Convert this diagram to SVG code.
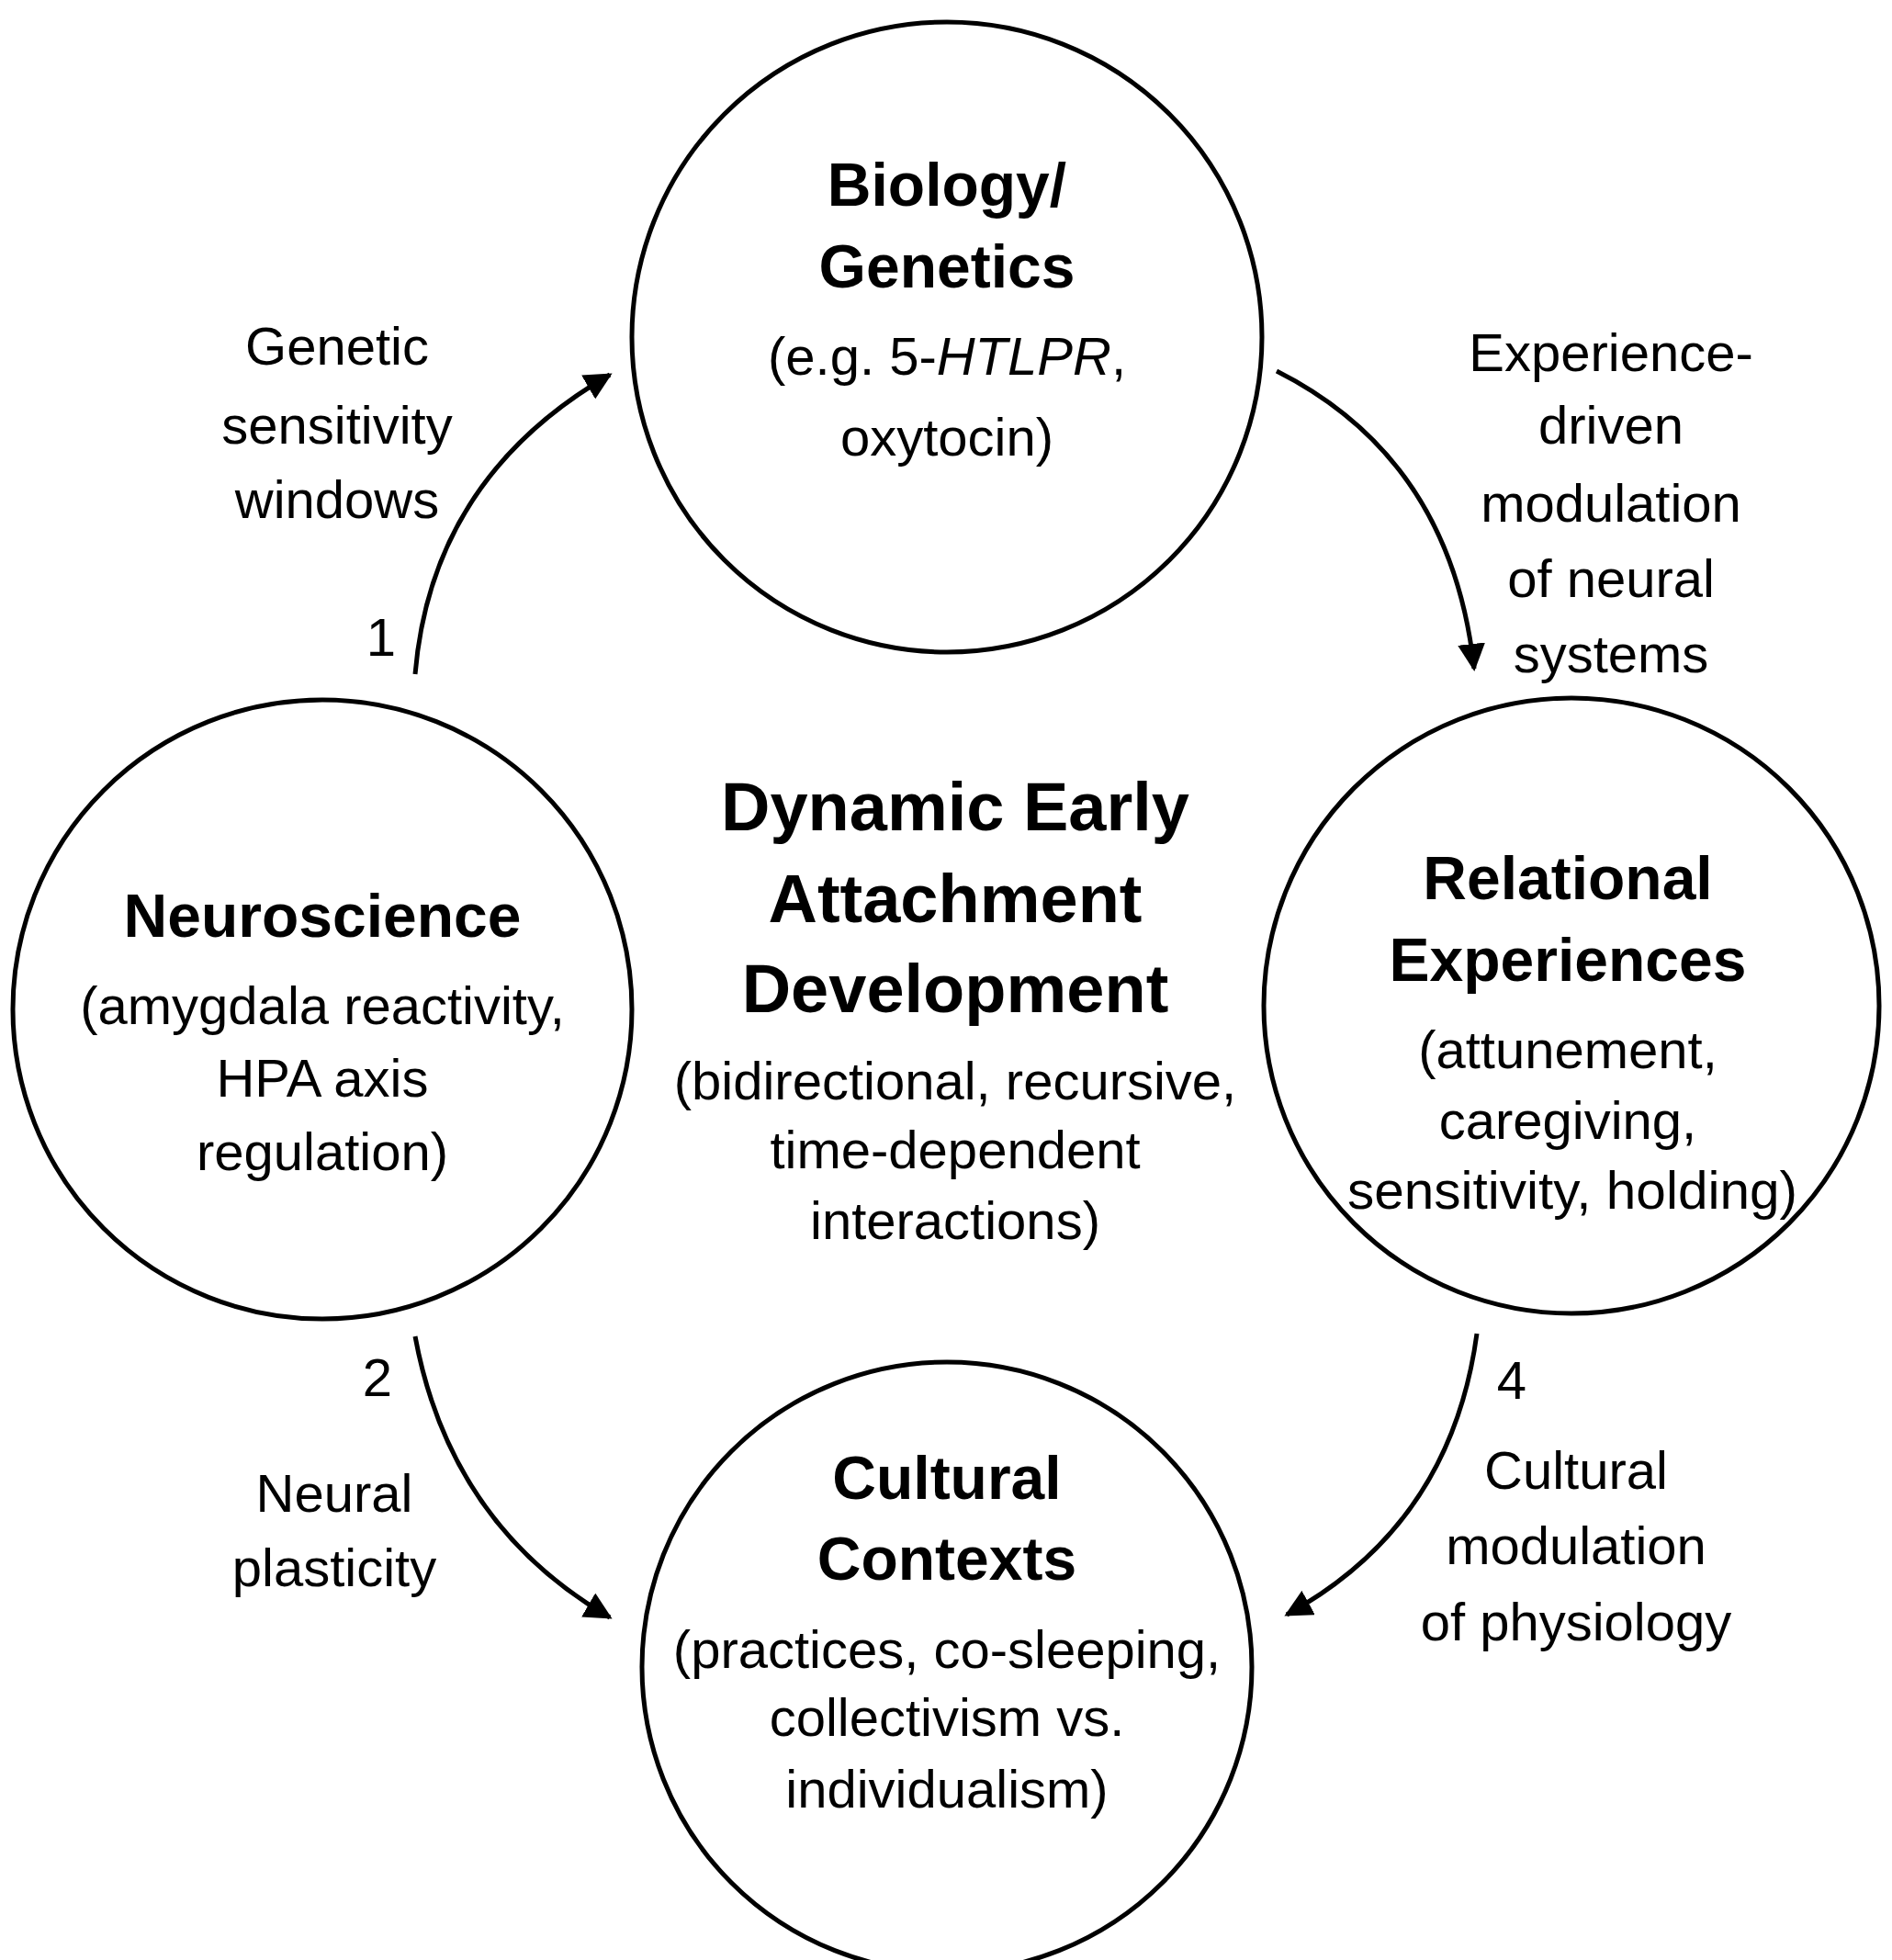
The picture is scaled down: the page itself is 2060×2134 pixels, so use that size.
<svg xmlns="http://www.w3.org/2000/svg" width="2060" height="2134" viewBox="0 0 2060 2134">
<style>
.c{fill:#fff;stroke:#000;stroke-width:5}
text{font-family:"Liberation Sans",Arial,sans-serif;text-anchor:middle;fill:#000}
.h{font-weight:bold;font-size:66px}
.t{font-size:58px}
.ti{font-weight:bold;font-size:74px}
.e{fill:none;stroke:#000;stroke-width:5}
</style>
<defs><marker id="a" viewBox="0 0 10 10" refX="9" refY="5" markerWidth="6" markerHeight="6" markerUnits="strokeWidth" orient="auto"><path d="M0,0L10,5L0,10z" fill="#000"/></marker></defs>
<rect width="2060" height="2134" fill="#fff"/>
<g id="biology"><circle class="c" cx="1031" cy="367" r="343"/>
<text class="h" x="1031" y="224">Biology/</text><text class="h" x="1031" y="313">Genetics</text>
<text class="t" x="1031" y="408">(e.g. 5-<tspan font-style="italic">HTLPR</tspan>,</text><text class="t" x="1031" y="496">oxytocin)</text></g>
<g id="neuro"><circle class="c" cx="351" cy="1099" r="337"/>
<text class="h" x="351" y="1020">Neuroscience</text><text class="t" x="351" y="1115">(amygdala reactivity,</text><text class="t" x="351" y="1194">HPA axis</text><text class="t" x="351" y="1274">regulation)</text></g>
<g id="relational"><circle class="c" cx="1711" cy="1095" r="335"/>
<text class="h" x="1707" y="979">Relational</text><text class="h" x="1707" y="1068">Experiences</text><text class="t" x="1707" y="1163">(attunement,</text><text class="t" x="1707" y="1240">caregiving,</text><text class="t" x="1712" y="1316" textLength="490" lengthAdjust="spacingAndGlyphs">sensitivity, holding)</text></g>
<g id="cultural"><circle class="c" cx="1031" cy="1815" r="332"/>
<text class="h" x="1031" y="1632">Cultural</text><text class="h" x="1031" y="1720">Contexts</text><text class="t" x="1031" y="1816">(practices, co-sleeping,</text><text class="t" x="1031" y="1890">collectivism vs.</text><text class="t" x="1031" y="1968">individualism)</text></g>
<g id="center"><text class="ti" x="1040" y="904">Dynamic Early</text><text class="ti" x="1040" y="1004">Attachment</text><text class="ti" x="1040" y="1102">Development</text>
<text class="t" x="1040" y="1197">(bidirectional, recursive,</text><text class="t" x="1040" y="1272">time-dependent</text><text class="t" x="1040" y="1349">interactions)</text></g>
<g id="connectors">
<path class="e" d="M452,734Q470,520 664,408" marker-end="url(#a)"/>
<path class="e" d="M1390,404Q1580,500 1605,728" marker-end="url(#a)"/>
<path class="e" d="M452,1455Q490,1660 664,1761" marker-end="url(#a)"/>
<path class="e" d="M1608,1452Q1580,1660 1401,1758" marker-end="url(#a)"/>
</g>
<g id="labels">
<text class="t" x="367" y="397">Genetic</text><text class="t" x="367" y="483">sensitivity</text><text class="t" x="367" y="564">windows</text><text class="t" x="415" y="714">1</text>
<text class="t" x="1754" y="404">Experience-</text><text class="t" x="1754" y="483">driven</text><text class="t" x="1754" y="568">modulation</text><text class="t" x="1754" y="650">of neural</text><text class="t" x="1754" y="732">systems</text>
<text class="t" x="411" y="1520">2</text><text class="t" x="364" y="1646">Neural</text><text class="t" x="364" y="1727">plasticity</text>
<text class="t" x="1646" y="1523">4</text><text class="t" x="1716" y="1621">Cultural</text><text class="t" x="1716" y="1703">modulation</text><text class="t" x="1716" y="1786">of physiology</text>
</g>
</svg>
